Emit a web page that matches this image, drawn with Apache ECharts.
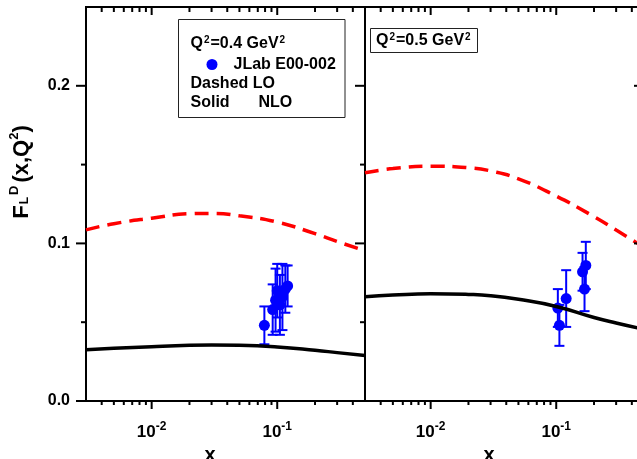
<!DOCTYPE html>
<html><head><meta charset="utf-8">
<script src="https://cdn.jsdelivr.net/npm/echarts@6/dist/echarts.min.js"></script>
<style>html,body{margin:0;padding:0;background:#fff}#c{width:637px;height:459px}</style>
</head><body><div id="c"></div>
<script>
// ---- axis ranges ----
const X_MIN = 0.003, X_MAX = 0.5, Y_MIN = 0, Y_MAX = 0.25;

// ---- theory curves (x grid shared) ----
const curveX  = [0.003, 0.005, 0.01, 0.02, 0.03, 0.05, 0.1, 0.2, 0.3, 0.5];
const loQ04   = [0.1086, 0.1125, 0.1160, 0.1188, 0.1190, 0.1175, 0.1135, 0.1062, 0.1012, 0.0953];
const nloQ04  = [0.0325, 0.0334, 0.0345, 0.0354, 0.0356, 0.0354, 0.0343, 0.0322, 0.0307, 0.0288];
const loQ05   = [0.1448, 0.1475, 0.1490, 0.1480, 0.1460, 0.1410, 0.1300, 0.1170, 0.1085, 0.0975];
const nloQ05  = [0.0662, 0.0672, 0.0680, 0.0676, 0.0668, 0.0645, 0.0600, 0.0530, 0.0495, 0.0455];

// ---- JLab E00-002 data ----
const dataXQ04   = [0.079, 0.092, 0.097, 0.100, 0.105, 0.110, 0.116, 0.121];
const dataYQ04   = [0.048, 0.058, 0.064, 0.070, 0.061, 0.066, 0.071, 0.073];
const dataErrQ04 = [0.012, 0.016, 0.020, 0.017, 0.019, 0.021, 0.015, 0.013];
const dataXQ05   = [0.103, 0.106, 0.120, 0.162, 0.168, 0.172];
const dataYQ05   = [0.059, 0.048, 0.065, 0.082, 0.071, 0.086];
const dataErrQ05 = [0.012, 0.013, 0.018, 0.012, 0.014, 0.015];

// ---- ticks ----
const xMajorTicks = [0.01, 0.1];
const xMinorTicks = [0.004, 0.005, 0.006, 0.007, 0.008, 0.009, 0.02, 0.03, 0.04, 0.05, 0.06, 0.07, 0.08, 0.09, 0.2, 0.3, 0.4];
const yMajorTicks = [0, 0.1, 0.2];
const yMinorTicks = [0.05, 0.15];

const FONT = 'Liberation Sans';
const zip = (...a) => a[0].map((_, i) => a.map(arr => arr[i]));

function tickData() {
  const d = [];
  xMajorTicks.forEach(v => d.push([v, Y_MIN, 0]));
  xMinorTicks.forEach(v => d.push([v, Y_MIN, 1]));
  yMajorTicks.forEach(v => d.push([X_MIN, v, 2]));
  yMinorTicks.forEach(v => d.push([X_MIN, v, 3]));
  return d;
}
function makeTickRender(showLeft) {
  return function (params, api) {
    const code = api.value(2);
    const seg = (x1, y1, x2, y2) => ({ type: 'line', shape: { x1, y1, x2, y2 }, style: { stroke: '#000', lineWidth: 2 } });
    const ch = [];
    if (code < 2) {
      const v = api.value(0);
      const b = api.coord([v, Y_MIN]), t = api.coord([v, Y_MAX]);
      const lb = code === 0 ? 8 : 4, lt = code === 0 ? 8 : 5;
      ch.push(seg(b[0], b[1], b[0], b[1] + lb));
      ch.push(seg(t[0], t[1], t[0], t[1] + lt));
    } else {
      const v = api.value(1);
      const l = api.coord([X_MIN, v]), r = api.coord([X_MAX, v]);
      const len = code === 2 ? 10 : 5;
      if (showLeft) ch.push(seg(l[0] - len, l[1], l[0], l[1]));
      ch.push(seg(r[0] - len, r[1], r[0], r[1]));
    }
    return { type: 'group', children: ch };
  };
}
function errRender(params, api) {
  const x = api.value(0), y = api.value(1), e = api.value(2);
  const lo = api.coord([x, y - e]), hi = api.coord([x, y + e]);
  const w = 5, st = { stroke: '#0000ff', lineWidth: 2 };
  return { type: 'group', children: [
    { type: 'line', shape: { x1: lo[0], y1: lo[1], x2: hi[0], y2: hi[1] }, style: st },
    { type: 'line', shape: { x1: lo[0] - w, y1: lo[1], x2: lo[0] + w, y2: lo[1] }, style: st },
    { type: 'line', shape: { x1: hi[0] - w, y1: hi[1], x2: hi[0] + w, y2: hi[1] }, style: st }
  ] };
}

function xAxisCfg(gi) {
  return {
    type: 'log', logBase: 10, gridIndex: gi, min: X_MIN, max: X_MAX,
    axisLine: { show: true, lineStyle: { color: '#000', width: 2 } },
    axisTick: { show: false }, minorTick: { show: false }, splitLine: { show: false }, minorSplitLine: { show: false },
    axisLabel: {
      show: true, margin: 20, showMinLabel: false, showMaxLabel: false, hideOverlap: false,
      formatter: function (v) {
        const lg = Math.log10(v), e = Math.round(lg);
        if (Math.abs(lg - e) > 1e-6) return '';
        return '{b|10}{s|' + e + '}';
      },
      rich: {
        b: { fontSize: 17, fontWeight: 'bold', fontFamily: FONT, color: '#000' },
        s: { fontSize: 12, fontWeight: 'bold', fontFamily: FONT, color: '#000', padding: [0, 0, 10.6, 0] }
      }
    },
    name: 'x', nameLocation: 'middle', nameGap: 40,
    nameTextStyle: { fontSize: 20, fontWeight: 'bold', fontFamily: FONT, color: '#000', padding: [0, 31, 0, 0] }
  };
}
function yAxisCfg(gi, showLabels) {
  const cfg = {
    type: 'value', gridIndex: gi, min: Y_MIN, max: Y_MAX, interval: 0.1,
    axisLine: { show: true, lineStyle: { color: '#000', width: 2 } },
    axisTick: { show: false }, minorTick: { show: false }, splitLine: { show: false },
    axisLabel: {
      show: showLabels, margin: 16, showMaxLabel: false,
      formatter: v => v.toFixed(1),
      fontSize: 16, fontWeight: 'bold', fontFamily: FONT, color: '#000'
    }
  };
  if (showLabels) {
    cfg.name = '{F|F}{l|L}{d|D}{t|(x,Q}{q|2}{t|)}';
    cfg.nameLocation = 'middle';
    cfg.nameRotate = 90;
    cfg.nameGap = 51;
    cfg.nameTextStyle = {
      color: '#000', padding: [0, 0, 0, 64],
      rich: {
        F: { fontSize: 22, fontWeight: 'bold', fontFamily: FONT, color: '#000' },
        t: { fontSize: 22, fontWeight: 'bold', fontFamily: FONT, color: '#000' },
        l: { fontSize: 12, fontWeight: 'bold', fontFamily: FONT, color: '#000', padding: [7, 1, 0, 1] },
        d: { fontSize: 13, fontWeight: 'bold', fontFamily: FONT, color: '#000', padding: [0, 3, 14, 1] },
        q: { fontSize: 13, fontWeight: 'bold', fontFamily: FONT, color: '#000', padding: [0, 0, 14, 0] }
      }
    };
  }
  return cfg;
}

const txt = { fontSize: 16, fontWeight: 'bold', fontFamily: FONT, fill: '#000' };
const qRich = {
  b: { fontSize: 16, fontWeight: 'bold', fontFamily: FONT, fill: '#000' },
  s: { fontSize: 10, fontWeight: 'bold', fontFamily: FONT, fill: '#000', padding: [0, 1, 8, 1] }
};

const option = {
  animation: false,
  backgroundColor: '#fff',
  grid: [
    { left: 86, top: 7, width: 279, height: 394, show: true, borderColor: '#000', borderWidth: 2, backgroundColor: 'transparent', containLabel: false, outerBoundsMode: 'none' },
    { left: 365, top: 7, width: 279, height: 394, show: true, borderColor: '#000', borderWidth: 2, backgroundColor: 'transparent', containLabel: false, outerBoundsMode: 'none' }
  ],
  xAxis: [xAxisCfg(0), xAxisCfg(1)],
  yAxis: [yAxisCfg(0, true), yAxisCfg(1, false)],
  legend: {
    show: true, selectedMode: false, left: 201.5, top: 51.5, padding: 5,
    data: ['JLab E00-002'], icon: 'circle', itemWidth: 33, itemHeight: 11,
    itemStyle: { opacity: 1, color: '#0000ff' },
    textStyle: { fontSize: 16, fontWeight: 'bold', fontFamily: FONT, color: '#000' }
  },
  graphic: [
    { type: 'rect', shape: { x: 178.5, y: 19.5, width: 166.5, height: 98 }, style: { fill: 'none', stroke: '#222', lineWidth: 1 }, z: 10 },
    { type: 'text', x: 190.5, y: 44, z: 11, style: { text: '{b|Q}{s|2}{b|=0.4 GeV}{s|2}', rich: qRich, verticalAlign: 'middle', align: 'left' } },
    { type: 'text', x: 190.5, y: 83.5, z: 11, style: Object.assign({ text: 'Dashed LO', verticalAlign: 'middle', align: 'left' }, txt) },
    { type: 'text', x: 190.5, y: 103, z: 11, style: Object.assign({ text: 'Solid', verticalAlign: 'middle', align: 'left' }, txt) },
    { type: 'text', x: 258.5, y: 103, z: 11, style: Object.assign({ text: 'NLO', verticalAlign: 'middle', align: 'left' }, txt) },
    { type: 'rect', shape: { x: 370.5, y: 28.5, width: 107, height: 24 }, style: { fill: 'none', stroke: '#222', lineWidth: 1 }, z: 10 },
    { type: 'text', x: 376, y: 41, z: 11, style: { text: '{b|Q}{s|2}{b|=0.5 GeV}{s|2}', rich: qRich, verticalAlign: 'middle', align: 'left' } }
  ],
  series: [
    { type: 'custom', xAxisIndex: 0, yAxisIndex: 0, renderItem: makeTickRender(true), data: tickData(), encode: { x: 0, y: 1 }, silent: true, z: 5 },
    { type: 'custom', xAxisIndex: 1, yAxisIndex: 1, renderItem: makeTickRender(false), data: tickData(), encode: { x: 0, y: 1 }, silent: true, z: 5 },
    { type: 'custom', name: 'errQ04', xAxisIndex: 0, yAxisIndex: 0, renderItem: errRender, data: zip(dataXQ04, dataYQ04, dataErrQ04), encode: { x: 0, y: 1 }, z: 2 },
    { type: 'custom', name: 'errQ05', xAxisIndex: 1, yAxisIndex: 1, renderItem: errRender, data: zip(dataXQ05, dataYQ05, dataErrQ05), encode: { x: 0, y: 1 }, z: 2 },
    { type: 'scatter', name: 'JLab E00-002', xAxisIndex: 0, yAxisIndex: 0, data: zip(dataXQ04, dataYQ04), symbol: 'circle', symbolSize: 11, itemStyle: { color: '#0000ff', opacity: 1 }, z: 3 },
    { type: 'scatter', name: 'JLab E00-002', xAxisIndex: 1, yAxisIndex: 1, data: zip(dataXQ05, dataYQ05), symbol: 'circle', symbolSize: 11, itemStyle: { color: '#0000ff', opacity: 1 }, z: 3 },
    { type: 'line', name: 'LO Q2=0.4', xAxisIndex: 0, yAxisIndex: 0, data: zip(curveX, loQ04), smooth: true, showSymbol: false, symbol: 'none', lineStyle: { color: '#ff0000', width: 3.5, type: [14, 8] }, z: 4 },
    { type: 'line', name: 'NLO Q2=0.4', xAxisIndex: 0, yAxisIndex: 0, data: zip(curveX, nloQ04), smooth: true, showSymbol: false, symbol: 'none', lineStyle: { color: '#000', width: 3.5 }, z: 4 },
    { type: 'line', name: 'LO Q2=0.5', xAxisIndex: 1, yAxisIndex: 1, data: zip(curveX, loQ05), smooth: true, showSymbol: false, symbol: 'none', lineStyle: { color: '#ff0000', width: 3.5, type: [14, 8] }, z: 4 },
    { type: 'line', name: 'NLO Q2=0.5', xAxisIndex: 1, yAxisIndex: 1, data: zip(curveX, nloQ05), smooth: true, showSymbol: false, symbol: 'none', lineStyle: { color: '#000', width: 3.5 }, z: 4 }
  ]
};
const chart = echarts.init(document.getElementById('c'), null, { renderer: 'canvas' });
chart.setOption(option);
</script>
</body></html>
